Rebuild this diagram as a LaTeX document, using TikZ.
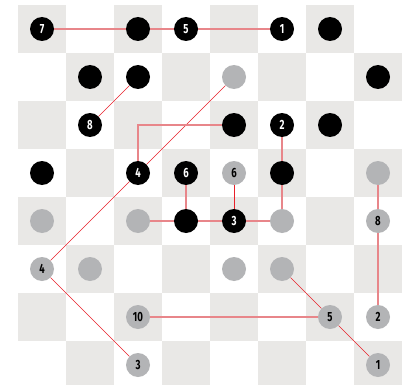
\documentclass[tikz,border=0pt]{standalone}
\usepackage{fontspec}
\newfontfamily\numfont[FakeStretch=0.72]{Fira Sans}
\usepackage{tikz}

\definecolor{boardgray}{HTML}{E9E8E6}
\definecolor{stonegray}{HTML}{B3B4B6}
\definecolor{pinkline}{HTML}{E8868A}
\definecolor{redline}{HTML}{E8202A}

\begin{document}
\begin{tikzpicture}[x=0.75pt, y=-0.75pt,
    blk/.style = {circle, fill=black, text=white, minimum size=18pt, inner sep=0pt, font=\numfont\bfseries\fontsize{10}{10}\selectfont},
    gry/.style = {circle, fill=stonegray, text=black, minimum size=18pt, inner sep=0pt, font=\numfont\bfseries\fontsize{10}{10}\selectfont},
    thk/.style = {pinkline, line width=1.1pt},
    thn/.style = {redline, line width=0.5pt}]
      \clip (0,0) rectangle (403,385);
      \fill[white] (0,0) rectangle (403,385);
      % board
      \foreach \c in {0,...,7} {
        \foreach \r in {0,...,3} {
          \pgfmathtruncatemacro\rr{2*\r+mod(\c,2)}
          \fill[boardgray] (18+48*\c, 5+48*\rr) rectangle ++(48,48);
        }
      }
      % black stones
      \node[blk] (b00) at (42,29) {7};
      \node[blk] (b02) at (138,29) {};
      \node[blk] (b03) at (186,29) {5};
      \node[blk] (b05) at (282,29) {1};
      \node[blk] (b06) at (330,29) {};
      \node[blk] (b11) at (90,77) {};
      \node[blk] (b12) at (138,77) {};
      \node[blk] (b17) at (378,77) {};
      \node[blk] (b21) at (90,125) {8};
      \node[blk] (b24) at (234,125) {};
      \node[blk] (b25) at (282,125) {2};
      \node[blk] (b26) at (330,125) {};
      \node[blk] (b30) at (42,173) {};
      \node[blk] (b32) at (138,173) {4};
      \node[blk] (b33) at (186,173) {6};
      \node[blk] (b35) at (282,173) {};
      \node[blk] (b43) at (186,221) {};
      \node[blk] (b44) at (234,221) {3};
      % gray stones
      \node[gry] (g14) at (234,77) {};
      \node[gry] (g34) at (234,173) {6};
      \node[gry] (g37) at (378,173) {};
      \node[gry] (g40) at (42,221) {};
      \node[gry] (g42) at (138,221) {};
      \node[gry] (g45) at (282,221) {};
      \node[gry] (g47) at (378,221) {8};
      \node[gry] (g50) at (42,269) {4};
      \node[gry] (g51) at (90,269) {};
      \node[gry] (g54) at (234,269) {};
      \node[gry] (g55) at (282,269) {};
      \node[gry] (g62) at (138,317) {10};
      \node[gry] (g66) at (330,317) {5};
      \node[gry] (g67) at (378,317) {2};
      \node[gry] (g72) at (138,365) {3};
      \node[gry] (g77) at (378,365) {1};
      % moves
      \draw[thk] (b00) -- (b02);
      \draw[thk] (b02) -- (b03);
      \draw[thk] (b03) -- (b05);
      \draw[thn] (b12) -- (b21);
      \draw[thn] (g14) -- (b32);
      \draw[thn] (b32) -- (g50);
      \draw[thk] (b24) -| (b32);
      \draw[thk] (b25) -- (b35);
      \draw[thk] (b35) -- (g45);
      \draw[thk] (b33) -- (b43);
      \draw[thn] (g34) -- (b44);
      \draw[thk] (g42) -- (b43);
      \draw[thk] (b43) -- (b44);
      \draw[thk] (b44) -- (g45);
      \draw[thk] (g37) -- (g47);
      \draw[thk] (g47) -- (g67);
      \draw[thn] (g50) -- (g72);
      \draw[thn] (g55) -- (g66);
      \draw[thn] (g66) -- (g77);
      \draw[thk] (g62) -- (g66);
    \end{tikzpicture}
\end{document}
